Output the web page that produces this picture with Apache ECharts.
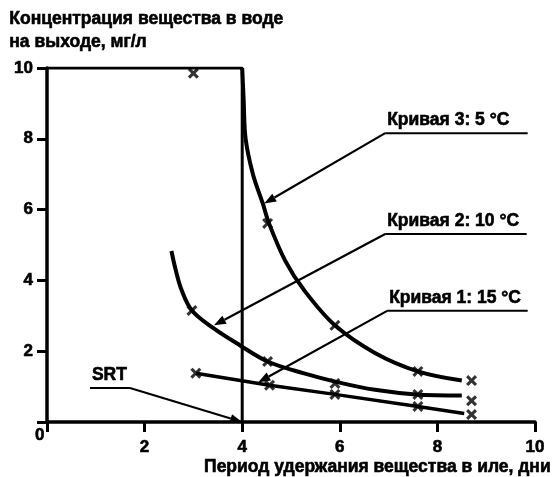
<!DOCTYPE html>
<html>
<head>
<meta charset="utf-8">
<script src="https://cdn.jsdelivr.net/npm/echarts@6/dist/echarts.min.js"></script>
<style>
html, body { margin: 0; background: #fff; }
#main { width: 553px; height: 477px; }
</style>
</head>
<body>
<div id="main"></div>
<script>
// оси
const xMin = 0, xMax = 10, xStep = 2;
const yMin = 0, yMax = 10, yStep = 2;
const yTitle = ['Концентрация вещества в воде', 'на выходе, мг/л'];
const xTitle = 'Период удержания вещества в иле, дни';

// SRT рамка (x = 4 дня)
const srtBox = [[0, 10], [4, 10], [4, 0]];
const topMark = [[3.0, 9.85]];

// кривая 3: 5 °C
const curve3Line = [[4.0, 10], [4.03, 9.09], [4.07, 8.0], [4.22, 7.0], [4.42, 6.18], [4.55, 5.61],
    [4.88, 4.56], [5.27, 3.72], [5.9, 2.73], [6.72, 1.95], [7.6, 1.43], [8.5, 1.17]];
const curve3Marks = [[4.52, 5.61], [5.9, 2.73], [7.6, 1.43], [8.7, 1.17]];

// кривая 2: 10 °C
const curve2Line = [[2.55, 4.83], [2.64, 4.28], [2.76, 3.72], [2.97, 3.15], [3.38, 2.68], [3.95, 2.17],
    [4.52, 1.71], [5.25, 1.38], [5.97, 1.12], [6.72, 0.91], [7.56, 0.78], [8.5, 0.75]];
const curve2Marks = [[2.97, 3.15], [4.52, 1.71], [5.9, 1.09], [7.6, 0.78], [8.7, 0.60]];

// кривая 1: 15 °C
const curve1Line = [[3.05, 1.38], [4.56, 1.04], [5.9, 0.78], [7.6, 0.44], [8.55, 0.24]];
const curve1Marks = [[3.05, 1.38], [4.56, 1.04], [5.9, 0.78], [7.6, 0.44], [8.7, 0.21]];

// подписи со стрелками
const notes = [
    {text: 'Кривая 3: 5 °C', under: [[6.93, 8.16], [9.85, 8.16]], from: 0, tip: [4.45, 6.17]},
    {text: 'Кривая 2: 10 °C', under: [[6.93, 5.31], [9.83, 5.31]], from: 0, tip: [3.42, 2.73]},
    {text: 'Кривая 1: 15 °C', under: [[6.97, 3.14], [9.85, 3.14]], from: 0, tip: [4.33, 1.12]},
    {text: 'SRT', under: [[0.88, 0.96], [1.7, 0.96]], from: 1, tip: [4, 0]}
];

const FONT = 'Liberation Sans';
const crossPath = 'path://M0,2L2,0L5,3L8,0L10,2L7,5L10,8L8,10L5,7L2,10L0,8L3,5Z';

const chart = echarts.init(document.getElementById('main'), null, {renderer: 'canvas'});

function lineSeries(data, width, smooth) {
    return {
        type: 'line', data: data, showSymbol: false, smooth: smooth,
        lineStyle: {color: '#000', width: width}, silent: true, z: 3
    };
}
function markSeries(data) {
    return {
        type: 'scatter', data: data, symbol: crossPath, symbolSize: 11,
        itemStyle: {color: '#000'}, silent: true, z: 5
    };
}

function axis(margin) {
    return {
        type: 'value',
        axisLine: {onZero: false, lineStyle: {color: '#000', width: 3.5}},
        axisTick: {length: 10, lineStyle: {color: '#000', width: 3}},
        splitLine: {show: false},
        axisLabel: {
            color: '#000', fontFamily: FONT, fontWeight: 'bold', fontSize: 17, margin: margin,
            textBorderColor: '#000', textBorderWidth: 0.6,
            formatter: v => (v === 0 ? '' : String(v))
        }
    };
}

chart.setOption({
    animation: false,
    backgroundColor: '#fff',
    grid: {left: 47, right: 18, top: 68, bottom: 55, containLabel: false, outerBoundsMode: 'none'},
    xAxis: Object.assign(axis(17), {min: xMin, max: xMax, interval: xStep}),
    yAxis: Object.assign(axis(14), {min: yMin, max: yMax, interval: yStep}),
    series: [
        lineSeries(srtBox, 3, false),
        lineSeries(curve3Line, 4, 0.35),
        lineSeries(curve2Line, 4, 0.35),
        lineSeries(curve1Line, 3.5, false),
        markSeries(curve3Marks),
        markSeries(curve2Marks),
        markSeries(curve1Marks),
        markSeries(topMark)
    ]
});

// подписи: заголовки осей и выноски
const toPx = p => chart.convertToPixel({gridIndex: 0}, p);
const graphics = [];
const textStyle = {fill: '#000', fontFamily: FONT, fontWeight: 'bold', fontSize: 17,
    stroke: '#000', lineWidth: 0.6};

graphics.push({type: 'text', left: 9, top: 10,
    style: Object.assign({text: yTitle[0]}, textStyle, {fontSize: 17.5})});
graphics.push({type: 'text', left: 9, top: 33,
    style: Object.assign({text: yTitle[1]}, textStyle, {fontSize: 17.5})});
graphics.push({type: 'text', right: 2, top: 458,
    style: Object.assign({text: xTitle}, textStyle, {fontSize: 17.5})});
const o = toPx([0, 0]);
graphics.push({type: 'text', x: o[0] - 12, y: o[1] + 5,
    style: Object.assign({text: '0'}, textStyle)});

notes.forEach(n => {
    const a = toPx(n.under[0]), b = toPx(n.under[1]);
    const s = n.from === 0 ? a : b;
    const t = toPx(n.tip);
    graphics.push({type: 'line', shape: {x1: a[0], y1: a[1], x2: b[0], y2: b[1]},
        style: {stroke: '#000', lineWidth: 2}, z: 10});
    graphics.push({type: 'text', x: a[0] + 2, y: a[1] - 22,
        style: Object.assign({text: n.text}, textStyle, {fontSize: 17.5}), z: 10});
    const dx = t[0] - s[0], dy = t[1] - s[1];
    const len = Math.sqrt(dx * dx + dy * dy);
    const ux = dx / len, uy = dy / len;
    const hl = 12, hw = 4.5;
    const bx = t[0] - ux * hl, by = t[1] - uy * hl;
    graphics.push({type: 'line', shape: {x1: s[0], y1: s[1], x2: bx, y2: by},
        style: {stroke: '#000', lineWidth: 2.2}, z: 10});
    graphics.push({type: 'polygon', shape: {points: [
        [t[0], t[1]], [bx - uy * hw, by + ux * hw], [bx + uy * hw, by - ux * hw]]},
        style: {fill: '#000'}, z: 10});
});

chart.setOption({graphic: graphics});
</script>
</body>
</html>
